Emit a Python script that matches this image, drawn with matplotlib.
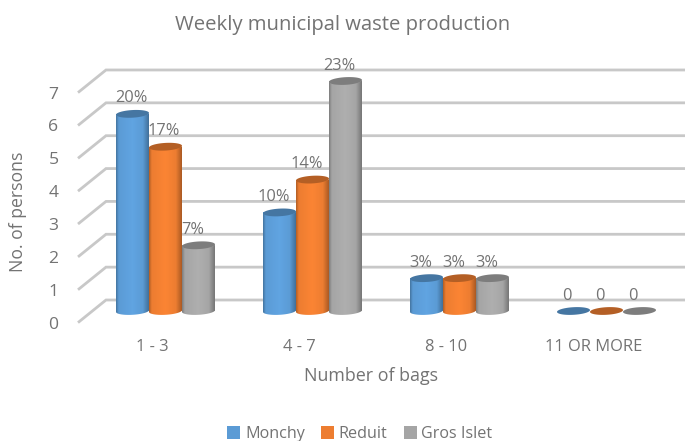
import matplotlib
matplotlib.use("Agg")
import matplotlib.pyplot as plt
import numpy as np
from matplotlib.colors import to_rgb
from matplotlib.patches import Polygon, Rectangle

categories = ["1 - 3", "4 - 7", "8 - 10", "11 OR MORE"]
monchy = [6, 3, 1, 0]
reduit = [5, 4, 1, 0]
gros_islet = [2, 7, 1, 0]
monchy_labels = ["20%", "10%", "3%", "0"]
reduit_labels = ["17%", "14%", "3%", "0"]
gros_islet_labels = ["7%", "23%", "3%", "0"]
y_ticks = [0, 1, 2, 3, 4, 5, 6, 7]

W, H = 685, 441
TEXT = "#737373"
GRID = "#c8c8c8"
plt.rcParams["font.family"] = ["Open Sans", "DejaVu Sans"]

# pixels per unit, measured on the picture
PX_X = 147.0
PX_Y = 32.86
X0, Y0 = 165.5, 311.0   # where category 0 / value 0 sit
LEFT, TOP, BOTTOM = 78.0, 60.0, 322.6
BACK_X = (106 - X0) / PX_X
BACK_Y = 11 / PX_Y
FRONT_Y = -(BOTTOM - Y0) / PX_Y
BAR_W = 33 / PX_X
RX, RY = BAR_W / 2, 3.8 / PX_Y
TILT = 0.9 / PX_Y

fig = plt.figure(figsize=(W / 100, H / 100), dpi=100)
ax = fig.add_axes([LEFT / W, 1 - BOTTOM / H, 1 - LEFT / W, (BOTTOM - TOP) / H])
xlim = ((LEFT - X0) / PX_X, (W - X0) / PX_X)
ylim = (FRONT_Y, (Y0 - TOP) / PX_Y)

for v in y_ticks:
    ax.plot([xlim[0], BACK_X, xlim[1]], [v + FRONT_Y, v + BACK_Y, v + BACK_Y],
            color=GRID, lw=2.0, zorder=1, solid_capstyle="butt", solid_joinstyle="miter", clip_on=False)


def ellipse(xc, yc, t):
    return np.column_stack([xc + RX * np.cos(t), yc + RY * np.sin(t) + TILT * np.cos(t)])


def cylinder(xc, val, base, z):
    base = np.array(to_rgb(base))
    dark = base * 0.76
    light = np.minimum(base * 1.06, 1)
    t = np.linspace(np.pi, 2 * np.pi, 40)
    if val > 0:
        # gradient body clipped to the cylinder outline
        outline = np.vstack([ellipse(xc, 0, t), ellipse(xc, val, t[::-1])])
        stops = np.array([0, 0.08, 0.5, 0.82, 1])
        cols = np.array([dark, base, light, base, dark * 0.95])
        u = np.linspace(0, 1, 64)
        grad = np.stack([np.interp(u, stops, cols[:, i]) for i in range(3)], axis=-1)[None, :, :]
        im = ax.imshow(grad, extent=(xc - RX, xc + RX, -RY * 2, val + RY * 2), aspect="auto",
                       interpolation="bilinear", zorder=z)
        im.set_clip_path(Polygon(outline, closed=True, transform=ax.transData))
    t_full = np.linspace(0, 2 * np.pi, 60)
    ax.add_patch(Polygon(ellipse(xc, val, t_full), closed=True, fc=dark, ec="none", zorder=z + 0.1))


series = [("Monchy", monchy, monchy_labels, "#5b9bd5"),
          ("Reduit", reduit, reduit_labels, "#ed7d31"),
          ("Gros Islet", gros_islet, gros_islet_labels, "#a5a5a5")]
idx = np.arange(len(categories))
for k, (name, vals, labels, col) in enumerate(series):
    xs = idx + (k - 1) * BAR_W
    ax.bar(xs, vals, BAR_W, color=col, zorder=2 + k * 0.01, label=name)
    for j, (x, v, lab) in enumerate(zip(xs, vals, labels)):
        cylinder(x, v, col, 3 + j + k * 0.1)
        shift = -0.01 if (j == 0 and k < 2) else -0.042
        ax.text(x + shift, v + 0.47, lab, ha="center", va="center", fontsize=11.8, color=TEXT, zorder=10)

ax.set_xlim(xlim)
ax.set_ylim(ylim)
for s in ax.spines.values():
    s.set_visible(False)
ax.patch.set_visible(False)
ax.set_xticks(idx - 0.09)
ax.set_xticklabels(categories, fontsize=11.9, color=TEXT)
ax.set_yticks([v + FRONT_Y for v in y_ticks])
ax.set_yticklabels(y_ticks, fontsize=12.6, color=TEXT)
ax.tick_params(axis="x", length=0, pad=12)
ax.tick_params(axis="y", length=0, pad=14)

ax.set_xlabel("Number of bags", fontsize=12.9, color=TEXT)
ax.xaxis.set_label_coords((371 - LEFT) / (W - LEFT), -(376 - BOTTOM) / (BOTTOM - TOP), )
ax.xaxis.label.set_va("center")
ax.set_ylabel("No. of persons", fontsize=12.7, color=TEXT)
ax.yaxis.set_label_coords(-(78 - 18) / (W - LEFT), (BOTTOM - 212) / (BOTTOM - TOP))
ax.yaxis.label.set_va("center")

fig.text(343 / W, 1 - 25 / H, "Weekly municipal waste production", ha="center", va="center",
         fontsize=14.6, color=TEXT)

handles = [Rectangle((0, 0), 1, 1, fc=s[3], ec="none") for s in series]
fig.legend(handles, [s[0] for s in series], loc="center", bbox_to_anchor=(360 / W, 1 - 434 / H), ncol=3,
           frameon=False, fontsize=11.6, labelcolor=TEXT, handlelength=0.8, handleheight=0.8,
           handletextpad=0.3, columnspacing=1.0, borderpad=0, borderaxespad=0)

fig.savefig("out.png", dpi=100)
